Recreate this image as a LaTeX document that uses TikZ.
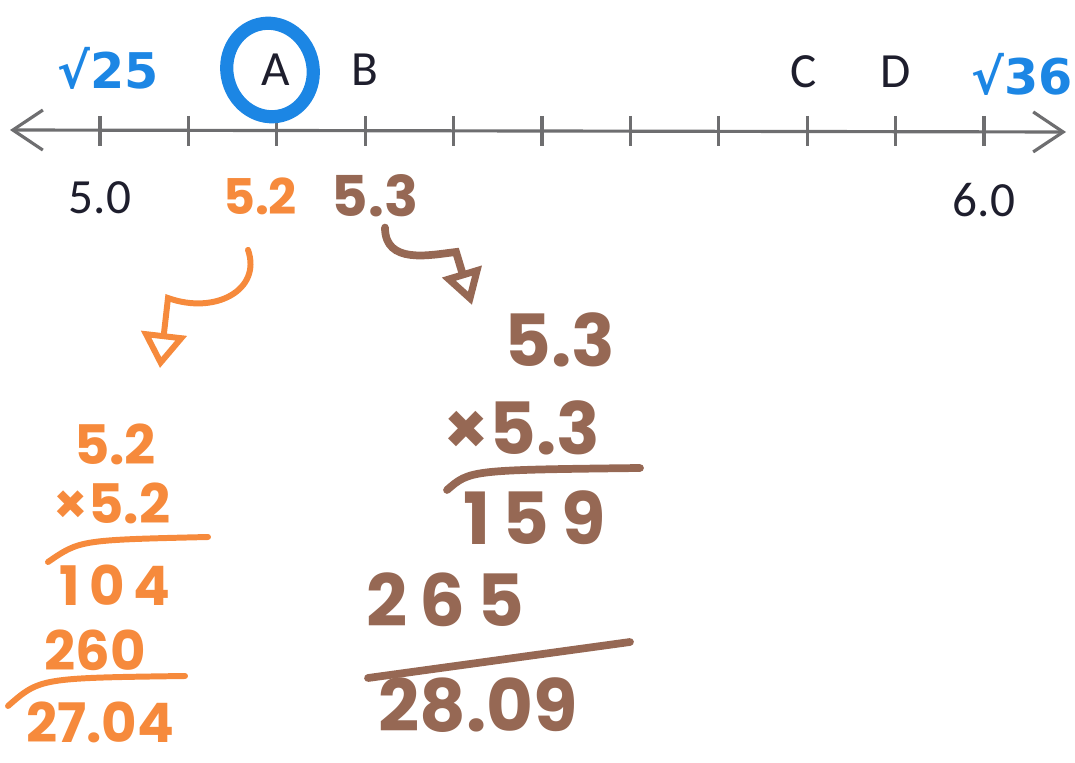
\documentclass[tikz,border=0pt]{standalone}
\usepackage{fontspec}
\setmainfont{Carlito}
\newfontfamily\hand{Poppins}
\newfontfamily\symfont{DejaVu Sans}
\usetikzlibrary{arrows.meta,calc}
\definecolor{axisgray}{RGB}{110,110,112}
\definecolor{inkdark}{RGB}{30,30,45}
\definecolor{mblue}{RGB}{28,134,228}
\definecolor{morange}{RGB}{246,138,60}
\definecolor{mbrown}{RGB}{150,104,84}
\tikzset{
  typed/.style={text=inkdark,font=\fontsize{28}{32}\selectfont,inner sep=0pt},
  tickmark/.style={draw=axisgray,line width=1.8pt},
  bluetxt/.style={text=mblue,font=\symfont\bfseries\fontsize{28}{32}\selectfont,inner sep=0pt},
  orsmall/.style={text=morange,font=\hand\bfseries\fontsize{28}{32}\selectfont,inner sep=0pt},
  ornum/.style={text=morange,font=\hand\bfseries\fontsize{31}{36}\selectfont,inner sep=0pt},
  brnum/.style={text=mbrown,font=\hand\bfseries\fontsize{41}{46}\selectfont,inner sep=0pt},
  brsmall/.style={text=mbrown,font=\hand\bfseries\fontsize{32}{36}\selectfont,inner sep=0pt},
  orline/.style={draw=morange,line width=3.4pt,line cap=round},
  brline/.style={draw=mbrown,line width=4.4pt,line cap=round},
}
\begin{document}
\begin{tikzpicture}[x=0.02cm,y=-0.02cm]
\useasboundingbox (0,0) rectangle (1075,763);
% number line
\coordinate (axL) at (10,130);
\coordinate (axR) at (1066,132);
\draw[draw=axisgray,line width=1.8pt,{Straight Barb[length=0.6cm,width=0.8cm]}-{Straight Barb[length=0.6cm,width=0.8cm]}] (axL) -- (axR);
\foreach \i in {0,...,10}{
  \coordinate (t\i) at ({100+88.4*\i},130);
  \draw[tickmark] ($(t\i)+(0,-14)$) -- ($(t\i)+(0,16)$);
}
% letters
\node[typed] (A) at (276,70) {A};
\node[typed] (B) at (365,70) {B};
\node[typed] (C) at (804,72) {C};
\node[typed] (D) at (896,72) {D};
\node[typed] (v50) at (100,198) {5.0};
\node[typed] (v60) at (984,200) {6.0};
% blue annotations
\node[bluetxt] (s25) at (108,68) {√25};
\node[bluetxt] (s36) at (1022,74) {√36};
\draw[draw=mblue,line width=7.5pt,rotate around={15:(270,70)}] (270,70) ellipse [x radius=43, y radius=47];
% top handwritten values
\node[orsmall] (o52) at (260,196) {5.2};
\node[brsmall] (b53) at (375,196) {5.3};
% orange calculation
\node[ornum] (oa) at (115,444) {5.2};
\node[ornum] (ob) at (112,503) {×5.2};
\coordinate (ol1a) at (48,562);
\coordinate (ol1b) at (208,537);
\draw[orline] (ol1a) .. controls (80,540) .. (ol1b);
\node[ornum] (oc) at (115,585) {1\,0\,4};
\node[ornum] (od) at (95,650) {260};
\coordinate (ol2a) at (8,706);
\coordinate (ol2b) at (185,676);
\draw[orline] (ol2a) .. controls (40,678) .. (ol2b);
\node[ornum] (oe) at (100,722) {27.04};
% brown calculation
\node[brnum] (ba) at (560,340) {5.3};
\node[brnum] (bb) at (522,428) {×5.3};
\coordinate (bl1a) at (447,490);
\coordinate (bl1b) at (640,468);
\draw[brline] (bl1a) .. controls (470,470) .. (bl1b);
\node[brnum] (bc) at (535,518) {1\,5\,9};
\node[brnum] (bd) at (445,600) {2\,6\,5};
\coordinate (bl2a) at (368,678);
\coordinate (bl2b) at (630,642);
\draw[brline] (bl2a) -- (bl2b);
\node[brnum] (be) at (478,705) {28.09};
% arrows
\coordinate (oarr) at (160,368);
\draw[orline,-{Triangle[open,length=0.7cm,width=0.9cm,line width=3.4pt]}]
  ($(o52.south)+(-12,35)$) .. controls (262,290) and (215,315) .. (168,298) -- (oarr);
\coordinate (barr) at (472,305);
\draw[brline,-{Triangle[open,length=0.7cm,width=0.8cm,line width=4pt]}]
  ($(b53.south)+(10,10)$) .. controls (385,265) and (430,255) .. (456,252) -- (barr);
\end{tikzpicture}
\end{document}
